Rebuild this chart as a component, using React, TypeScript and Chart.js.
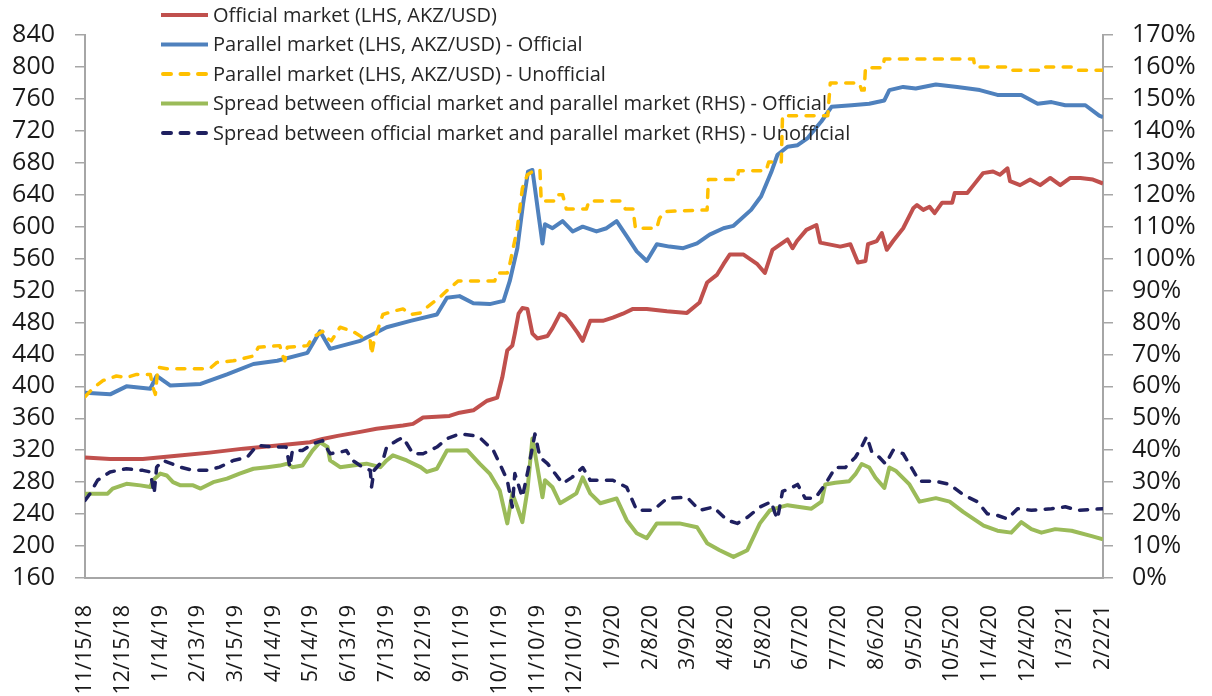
import React, { useEffect, useRef } from 'react';
import { Chart, registerables } from 'chart.js';
Chart.register(...registerables);

// Day index 0 = 11/15/18, last = 2/2/21
const START_UTC = Date.UTC(2018, 10, 15);
const X_MAX = 810;
const X_STEP = 30;

const officialDays = [0,20,46,73,99,126,153,179,189,201,219,232,253,261,269,290,298,309,320,328,332,336,340,342,345,348,352,356,360,368,372,378,382,387,392,396,402,412,420,428,436,447,463,479,489,495,503,508,513,524,535,541,547,559,563,566.5,574,582,585,601,609,615,621,623,630,634,638,643,651,659,662,667,672,676,682,690,692,702,707,714.5,722.5,728,734,736,744,752,760,768,776,784,792,802,810];
const officialVals = [311,309,309,313,317,322,326,330,334,338,343,347,351,353,361,363,367,370,382,386,411,445,451,466,491,498,497,466,460,463,473,491,488,478,467,457,482,482,486,491,497,497,494,492,505,530,540,553,565,565,553,542,571,584,573,582,596,602,580,575,578,555,557,578,582,592,571,582,598,623,627,621,625,617,630,630,642,642,652,667,669,665,673,657,652,659,652,661,652,661,661,659,654];

const parOffDays = [0,20,33,52,57,68,92,113,134,153,177,187,195,219,240,259,280,288,298,309,322,333,338,344,348.5,352.5,356,358,360.5,364,366,372,380,388,396,407,415,423,431,439,447,455,465,476,487,497,508,516,530,538,546,551,559,567,575,586,594,610,624,636,640,651,661,677,694,712,726,745,758,769,780,796,807,810];
const parOffVals = [392,390,400,397,413,401,403,415,428,432,442,469,447,457,474,482,490,511,513,504,503,507,532,573,628,669,671,648,619,579,603,598,607,594,600,594,598,607,588,569,557,578,575,573,579,590,598,601,621,638,668,690,700,702,711,732,750,752,754,758,771,775,773,778,775,771,765,765,754,756,752,752,739,737];

const parUnoffDays = [0,6,14,25,33,41,52,54,56,58,65,99,105,118,134,138,155,157,159,161,177,181,189,193,196,203,213,221,227,228,230,237,245,253,259,267,272,282,290,297,326,328,336,338,344,348,352,356,362,363,374,376,380,383,399,401,426,430,436,438,455,457,461,495,496,519,520,542,544,554,555,591,593,616,618,620,621,635,636,707,708,735,736,761,762,785,786,810];
const parUnoffVals = [387,397,407,413,411,415,415,399,390,424,422,422,430,432,438,449,451,440,432,449,451,461,469,460,457,474,469,461,457,440,457,490,494,497,490,492,499,511,523,532,532,542,542,553,598,648,665,669,671,632,632,640,640,622,622,632,632,622,622,598,598,610,619,621,659,659,670,670,681,681,739,739,780,780,771,771,799,799,810,810,800,800,796,796,800,800,796,796];

const spreadOffDays = [0,18,22,33,44,52,54,60,65,70,76,86,92,102,113,123,134,145,155,161,165,173,181,187,193,195,203,213,224,235,240,245,256,267,272,280,288,298,304,314,322,330,336,340,344,348,352,356,360,364,366,372,378,386,391,396,402,410,423,431,439,447,455,473,487,495,505,516,527,537,545,553,559,567,578,586,589,597,608,613,618,624,629,636,640,645,656,664,677,688,699,715,726,737,745,753,761,772,785,801,810];
const spreadOffVals = [26.4,26.4,28,29.5,29,28.5,30.6,32.7,32.1,30,29,29,28,30,31.1,32.7,34.2,34.7,35.2,35.8,34.7,35.2,39.9,42.5,41,36.8,34.7,35.2,35.8,34.7,36.8,38.4,36.8,34.7,33.2,34.2,39.9,39.9,40,35.8,32.7,27.4,17.1,26.5,22.2,17.5,27.4,43.7,34.6,25.3,30.6,28.4,23.4,25.3,26.5,31.5,26.5,23.4,24.9,18.1,14,12.5,17.1,17.1,15.9,10.9,8.7,6.6,8.7,17.1,21.2,22.2,22.8,22.3,21.7,23.9,29.3,29.8,30.3,32.5,35.7,34.6,31.4,28.2,34.6,33.6,29.3,23.9,25,23.9,20.6,16.4,14.8,14.2,17.5,15.3,14.2,15.3,14.8,13.1,12.1];

const spreadUnoffDays = [0,4,10,20,33,46,52,55,57,62,76,86,97,107,118,129,137,150,160,163,165,173,181,189,195,203,208,213,221,227,228,230,237,240,248,253,261,269,280,288,298,309,314,325,330,336,340,342,348,352.5,358,362,368,374,380,387.5,396,402,420,431,439,452,463,479,489,500,511,519,527,537,546,549,551,555,562,567,573,581,589,597,605,613,618,622,626,632,637,643,651,659,664,677,688,699,710,718,726,734,742,753,769,780,790,810];
const spreadUnoffVals = [24.3,26.4,30.6,33.2,34.2,33.7,33.2,26.4,34.7,36.8,34.7,33.7,33.7,34.7,36.8,37.8,41.5,41,41,34.7,39.9,39.9,42,43,38.9,39.4,39.9,36.8,34.7,33.7,28.5,33.7,36.8,41,43,44,38.9,38.9,41,43.6,45.1,44.6,44,39.9,35.8,30.6,22.2,32.7,25.3,33.7,45.1,37.8,35.8,32.7,29.6,31.5,34.6,30.6,30.6,28.4,21.2,21.2,24.9,25.3,21.2,22.2,18.1,17.1,19,22.2,23.9,20.3,18.5,27.1,28.2,29.3,25,25,29.3,34.6,34.6,37.8,41.1,44.3,39.5,37.8,35.7,40,38.9,33.6,30.3,30.3,29.3,26,23.9,20.1,19.6,18.5,21.7,21.2,21.7,22.3,21.2,21.7];

const seriesLabels = [
  'Official market (LHS, AKZ/USD)',
  'Parallel market (LHS, AKZ/USD) - Official',
  'Parallel market (LHS, AKZ/USD) - Unofficial',
  'Spread between official market and parallel market (RHS) - Official',
  'Spread between official market and parallel market (RHS) - Unofficial',
];

const LEFT_MIN = 160, LEFT_MAX = 840, LEFT_STEP = 40;
const RIGHT_MIN = 0, RIGHT_MAX = 170, RIGHT_STEP = 10;

const toPts = (d: number[], v: number[]) => d.map((x, i) => ({ x, y: v[i] }));

const fmtDay = (n: number) => {
  const d = new Date(START_UTC + n * 86400000);
  return `${d.getUTCMonth() + 1}/${d.getUTCDate()}/${String(d.getUTCFullYear()).slice(2)}`;
};

const FONT = '"Open Sans", "Noto Sans", sans-serif';
const AXIS_COLOR = '#a6a6a6';
const TEXT_COLOR = '#1a1a1a';
const DASH = [8, 9.5];

const legendPlugin = {
  id: 'customLegend',
  afterDraw(chart: any) {
    const ctx = chart.ctx as CanvasRenderingContext2D;
    ctx.save();
    ctx.font = `20px ${FONT}`;
    ctx.textBaseline = 'middle';
    ctx.textAlign = 'left';
    chart.data.datasets.forEach((ds: any, i: number) => {
      const y = 15 + i * 29.5;
      ctx.beginPath();
      const dashed = !!ds.borderDash;
      ctx.setLineDash(dashed ? ds.borderDash : []);
      ctx.lineCap = dashed ? 'round' : 'butt';
      ctx.strokeStyle = ds.borderColor;
      ctx.lineWidth = 4;
      ctx.moveTo(dashed ? 163 : 161, y);
      ctx.lineTo(208, y);
      ctx.stroke();
      ctx.setLineDash([]);
      ctx.fillStyle = '#262626';
      ctx.fillText(ds.label, 213, y + 1);
    });
    ctx.restore();
  },
};

export default function App() {
  const ref = useRef<HTMLCanvasElement>(null);
  useEffect(() => {
    if (!ref.current) return;
    const common = { pointRadius: 0, tension: 0, fill: false, borderJoinStyle: 'round' as const };
    const chart = new Chart(ref.current, {
      type: 'line',
      data: {
        datasets: [
          { ...common, label: seriesLabels[0], data: toPts(officialDays, officialVals), borderColor: '#C0504D', borderWidth: 4, yAxisID: 'y', order: 5 },
          { ...common, label: seriesLabels[1], data: toPts(parOffDays, parOffVals), borderColor: '#4F81BD', borderWidth: 4, yAxisID: 'y', order: 4 },
          { ...common, label: seriesLabels[2], data: toPts(parUnoffDays, parUnoffVals), borderColor: '#FFC000', borderWidth: 3.5, borderDash: DASH, borderCapStyle: 'round', yAxisID: 'y', order: 3 },
          { ...common, label: seriesLabels[3], data: toPts(spreadOffDays, spreadOffVals), borderColor: '#9BBB59', borderWidth: 4, yAxisID: 'y1', order: 2 },
          { ...common, label: seriesLabels[4], data: toPts(spreadUnoffDays, spreadUnoffVals), borderColor: '#1F2060', borderWidth: 3.5, borderDash: DASH, borderCapStyle: 'round', yAxisID: 'y1', order: 1 },
        ],
      },
      options: {
        responsive: false,
        animation: false,
        devicePixelRatio: 1,
        layout: { padding: { top: 33, left: 0, right: 0, bottom: 0 } },
        plugins: { legend: { display: false }, tooltip: { enabled: false } },
        scales: {
          x: {
            type: 'linear',
            min: 0,
            max: X_MAX,
            afterFit: (s: any) => { s.height = 118; },
            ticks: {
              stepSize: X_STEP,
              autoSkip: false,
              maxRotation: 90,
              minRotation: 90,
              padding: 27,
              color: TEXT_COLOR,
              font: { family: FONT, size: 21.5 },
              callback: (v: any) => fmtDay(Number(v)),
            },
            grid: { display: true, drawOnChartArea: false, drawTicks: false },
            border: { display: true, color: AXIS_COLOR, width: 2 },
          },
          y: {
            position: 'left',
            min: LEFT_MIN,
            max: LEFT_MAX,
            afterFit: (s: any) => { s.width = 85; },
            ticks: { stepSize: LEFT_STEP, autoSkip: false, padding: 20, color: TEXT_COLOR, font: { family: FONT, size: 25 } },
            grid: { drawOnChartArea: false, drawTicks: true, tickLength: 10, color: AXIS_COLOR, lineWidth: 1.5 },
            border: { display: true, color: AXIS_COLOR, width: 2 },
          },
          y1: {
            position: 'right',
            min: RIGHT_MIN,
            max: RIGHT_MAX,
            afterFit: (s: any) => { s.width = 109; },
            ticks: { stepSize: RIGHT_STEP, autoSkip: false, padding: 19, color: TEXT_COLOR, font: { family: FONT, size: 25 }, callback: (v: any) => `${v}%` },
            grid: { drawOnChartArea: false, drawTicks: true, tickLength: 10, color: AXIS_COLOR, lineWidth: 1.5 },
            border: { display: true, color: AXIS_COLOR, width: 2 },
          },
        },
      },
      plugins: [legendPlugin],
    } as any);
    return () => chart.destroy();
  }, []);
  return (
    <div style={{ position: 'fixed', left: 0, top: 0, width: 1212, height: 696, background: '#fff' }}>
      <canvas ref={ref} width={1212} height={696} />
    </div>
  );
}
